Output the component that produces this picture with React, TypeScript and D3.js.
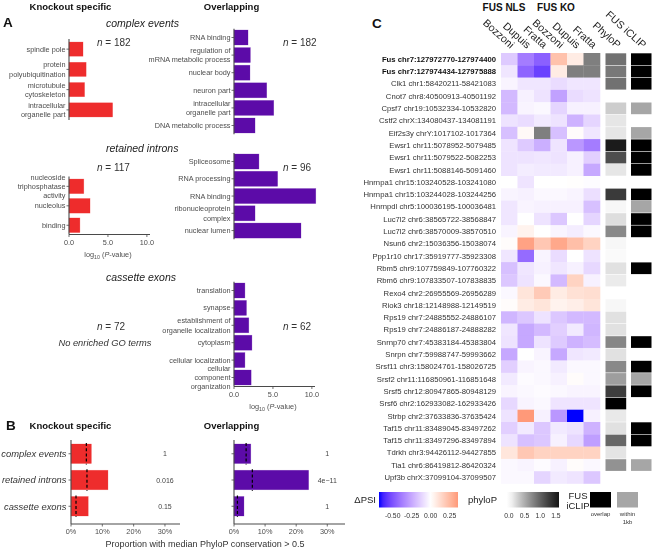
import React from 'react';
import * as d3 from 'd3';

const FONT = "'Liberation Sans', Arial, Helvetica, sans-serif";
const RED = '#EE2C2C';
const PURPLE = '#5C0BA8';
const AX = '#4a4a4a';
const LAB = '#4d4d4d';
const GF = 'url(#grayText)';

// ---------- Panel A data ----------
const koComplexTerms = ['spindle pole', 'protein\npolyubiquitination', 'microtubule\ncytoskeleton', 'intracellular\norganelle part'];
const koComplexVals = [1.8, 2.2, 2.0, 5.6];
const ovComplexTerms = ['RNA binding', 'regulation of\nmRNA metabolic process', 'nuclear body', 'neuron part', 'intracellular\norganelle part', 'DNA metabolic process'];
const ovComplexVals = [1.8, 2.1, 2.05, 4.2, 5.1, 2.7];
const koRetainedTerms = ['nucleoside\ntriphosphatase\nactivity', 'nucleolus', 'binding'];
const koRetainedVals = [1.9, 2.7, 1.4];
const ovRetainedTerms = ['Spliceosome', 'RNA processing', 'RNA binding', 'ribonucleoprotein\ncomplex', 'nuclear lumen'];
const ovRetainedVals = [3.2, 5.6, 10.5, 2.7, 8.6];
const ovCassetteTerms = ['translation', 'synapse', 'establishment of\norganelle localization', 'cytoplasm', 'cellular localization', 'cellular\ncomponent\norganization'];
const ovCassetteVals = [1.4, 1.6, 1.9, 2.3, 1.4, 2.2];
const goTicks = [0, 5, 10];

// ---------- Panel B data ----------
const bCats = ['complex events', 'retained introns', 'cassette exons'];
const bKoProp = [0.065, 0.118, 0.055];
const bKoNull = [0.049, 0.051, 0.016];
const bKoP = ['1', '0.016', '0.15'];
const bOvProp = [0.054, 0.24, 0.032];
const bOvNull = [0.039, 0.059, 0.011];
const bOvP = ['1', '4e\u221211', '1'];
const bTicks = [0, 0.1, 0.2, 0.3];

// ---------- Panel C data ----------
const eventLabels = [
  'Fus chr7:127972770-127974400', 'Fus chr7:127974434-127975888', 'Clk1 chr1:58420211-58421083',
  'Cnot7 chr8:40500913-40501192', 'Cpsf7 chr19:10532334-10532820', 'Cstf2 chrX:134080437-134081191',
  'Eif2s3y chrY:1017102-1017364', 'Ewsr1 chr11:5078952-5079485', 'Ewsr1 chr11:5079522-5082253',
  'Ewsr1 chr11:5088146-5091460', 'Hnrnpa1 chr15:103240528-103241080', 'Hnrnpa1 chr15:103244028-103244256',
  'Hnrnpdl chr5:100036195-100036481', 'Luc7l2 chr6:38565722-38568847', 'Luc7l2 chr6:38570009-38570510',
  'Nsun6 chr2:15036356-15038074', 'Ppp1r10 chr17:35919777-35923308', 'Rbm5 chr9:107759849-107760322',
  'Rbm6 chr9:107833507-107838835', 'Rexo4 chr2:26955569-26956289', 'Riok3 chr18:12148988-12149519',
  'Rps19 chr7:24885552-24886107', 'Rps19 chr7:24886187-24888282', 'Snrnp70 chr7:45383184-45383804',
  'Snrpn chr7:59988747-59993662', 'Srsf11 chr3:158024761-158026725', 'Srsf2 chr11:116850961-116851648',
  'Srsf5 chr12:80947865-80948129', 'Srsf6 chr2:162933082-162933426', 'Strbp chr2:37633836-37635424',
  'Taf15 chr11:83489045-83497262', 'Taf15 chr11:83497296-83497894', 'Tdrkh chr3:94426112-94427855',
  'Tia1 chr6:86419812-86420324', 'Upf3b chrX:37099104-37099507',
];
const boldEvents = [0, 1];
const nlsBozzoni = [-0.15,-0.07,-0.03,-0.2,-0.2,-0.08,-0.18,-0.075,-0.08,-0.08,0,-0.03,-0.07,-0.07,-0.03,0.01,-0.07,-0.18,-0.16,-0.02,0.01,-0.21,-0.07,-0.08,-0.25,-0.135,-0.06,-0.03,-0.11,-0.08,-0.135,-0.08,0.09,-0.02,-0.02];
const nlsDupuis = [-0.38,-0.45,-0.07,-0.04,-0.03,-0.1,0.02,-0.15,-0.08,-0.05,-0.075,-0.04,-0.03,0,0.045,0.33,-0.43,-0.07,-0.08,0.095,0.07,-0.16,-0.25,-0.25,0,-0.03,-0.01,-0.02,-0.03,0.36,-0.06,-0.18,0.2,-0.03,-0.02];
const nlsFratta = [-0.46,-0.55,-0.07,-0.08,-0.02,-0.06,null,-0.23,-0.07,-0.06,0,-0.02,-0.04,-0.08,0,0.2,-0.03,-0.04,-0.02,0.19,0.095,-0.08,-0.2,-0.08,-0.03,-0.02,-0.02,-0.01,-0.02,-0.04,-0.16,-0.16,0.16,-0.01,-0.12];
const koBozzoni = [0.22,0.07,-0.1,-0.27,-0.12,-0.08,-0.18,-0.075,-0.08,-0.06,0,-0.02,-0.04,-0.16,-0.03,0.31,-0.1,-0.07,-0.2,0.07,0.045,-0.16,-0.135,-0.15,-0.25,-0.06,-0.04,-0.02,-0.075,-0.3,-0.06,-0.04,0.16,-0.04,-0.06];
const koDupuis = [0.07,null,-0.07,-0.1,-0.04,-0.22,0.01,-0.3,-0.04,-0.04,0.005,-0.03,-0.04,0,-0.05,0.23,0,-0.04,0.16,0.11,0.06,-0.2,-0.06,-0.22,-0.07,-0.02,0.01,-0.03,-0.075,-0.68,-0.08,-0.11,0.16,0.01,-0.075];
const koFratta = [null,null,-0.07,-0.08,-0.04,-0.12,-0.07,-0.38,-0.135,-0.25,-0.008,-0.09,-0.18,-0.12,-0.02,0.16,-0.08,-0.11,-0.04,0.12,0.095,-0.2,-0.21,-0.19,-0.06,-0.02,-0.02,-0.03,-0.075,-0.04,-0.22,-0.28,0.16,-0.02,-0.16];
const psiColumns = [nlsBozzoni, nlsDupuis, nlsFratta, koBozzoni, koDupuis, koFratta];
const psiColNames = ['Bozzoni', 'Dupuis', 'Fratta', 'Bozzoni', 'Dupuis', 'Fratta'];
const phyloP = [0.9,0.85,0.9,null,0.3,0.15,0.15,1.55,1.15,0.15,null,1.3,0.05,0.2,0.74,0.05,0.03,0.18,0.12,null,0.05,0.18,0.18,0.76,0.18,0.74,0.6,1.28,1.72,0.13,0.18,0.97,0.16,0.68,null];
// 2 = overlap, 1 = within 1kb, 0 = none
const iclip = [2,2,2,0,1,0,1,2,2,2,0,2,1,2,2,0,0,2,0,0,0,0,0,2,0,2,1,2,0,0,2,2,0,1,0];
const psiLegendTicks = [-0.5, -0.25, 0, 0.25];
const phyloLegendTicks = [0, 0.5, 1, 1.5];

const PSI_MAX = 0.68;
const psiColor = (v: number | null) => {
  if (v == null) return '#7f7f7f';
  if (v < 0) return d3.interpolateLab('#ffffff', '#0000ff')(Math.min(1, -v / PSI_MAX));
  return d3.interpolateLab('#ffffff', '#ff0000')(Math.min(1, v / PSI_MAX));
};
const phyloColor = d3.scaleLinear<string>().domain([0, 1.72]).range(['#ffffff', '#000000']).interpolate(d3.interpolateLab).clamp(true);

function MultiLine({ x, y, text, size, fill, anchor = 'end', lh = 9.3 }: any) {
  const lines = text.split('\n');
  const start = y - ((lines.length - 1) * lh) / 2;
  return (
    <text x={x} textAnchor={anchor} fontSize={size} fill={fill} fontFamily={FONT}>
      {lines.map((l: string, i: number) => (
        <tspan key={i} x={x} y={start + i * lh + size * 0.35}>{l}</tspan>
      ))}
    </text>
  );
}

function GOChart({ terms, vals, color, axisX, y0, y1, pad, xAxisY }: any) {
  const x = d3.scaleLinear().domain([0, 10.4]).range([axisX, axisX + 81]);
  const y = d3.scaleBand<string>().domain(terms).range([y0, y1]).paddingInner(pad).paddingOuter(pad / 2);
  const bottom = xAxisY != null ? xAxisY : y1;
  return (
    <g>
      {terms.map((t: string, i: number) => (
        <g key={t}>
          <rect x={x(0)} y={y(t)} width={x(vals[i]) - x(0)} height={y.bandwidth()} fill={color} stroke={color} strokeOpacity={0.4} strokeWidth={0.6} />
          <line x1={axisX - 2.5} x2={axisX} y1={y(t)! + y.bandwidth() / 2} y2={y(t)! + y.bandwidth() / 2} stroke={AX} strokeWidth={0.8} />
        </g>
      ))}
      <g filter={GF}>
        {terms.map((t: string) => (
          <MultiLine key={t} x={axisX - 3.5} y={y(t)! + y.bandwidth() / 2} text={t} size={7.3} fill={LAB} />
        ))}
      </g>
      <line x1={axisX} x2={axisX} y1={y0} y2={bottom} stroke={AX} strokeWidth={1.1} />
      {xAxisY != null && (
        <g>
          <line x1={axisX} x2={x(10.4)} y1={xAxisY} y2={xAxisY} stroke={AX} strokeWidth={1.1} />
          {goTicks.map((t) => (
            <line key={t} x1={x(t)} x2={x(t)} y1={xAxisY} y2={xAxisY + 2.5} stroke={AX} strokeWidth={0.8} />
          ))}
          <g filter={GF}>
            {goTicks.map((t) => (
              <text key={t} x={x(t)} y={xAxisY + 10.5} textAnchor="middle" fontSize={7.3} fill={LAB} fontFamily={FONT}>{t.toFixed(1)}</text>
            ))}
            <text x={x(5)} y={xAxisY + 22.5} textAnchor="middle" fontSize={7.3} fill={LAB} fontFamily={FONT}>
              log<tspan fontSize={5.3} dy={1.5}>10</tspan><tspan dy={-1.5}> (</tspan><tspan fontStyle="italic">P</tspan>-value)
            </text>
          </g>
        </g>
      )}
    </g>
  );
}

function NLabel({ x, y, n }: any) {
  return (
    <text x={x} y={y} fontSize={10} fill="#333" fontFamily={FONT}>
      <tspan fontStyle="italic">n</tspan> = {n}
    </text>
  );
}

function PropChart({ axisX, xEnd, xMax, prop, nullv, pvals, color, labels }: any) {
  const x = d3.scaleLinear().domain([0, xMax]).range([axisX, xEnd]);
  const y = d3.scalePoint<string>().domain(bCats).range([438, 522]).padding(0.6);
  const bh = 19.5;
  const axisY = 524;
  return (
    <g>
      {bCats.map((c, i) => (
        <g key={c}>
          <rect x={x(0)} y={y(c)! - bh / 2} width={x(prop[i]) - x(0)} height={bh} fill={color} stroke={color} strokeOpacity={0.4} strokeWidth={0.6} />
          <line x1={x(nullv[i])} x2={x(nullv[i])} y1={y(c)! - bh / 2 - 1} y2={y(c)! + bh / 2 + 1} stroke="#000" strokeWidth={1.2} strokeDasharray="3,2.2" />
          <line x1={axisX - 2.5} x2={axisX} y1={y(c)!} y2={y(c)!} stroke={AX} strokeWidth={0.8} />
        </g>
      ))}
      <g filter={GF}>
        {bCats.map((c, i) => (
          <g key={c}>
            <text x={x(0.3)} y={y(c)! + 2.5} textAnchor="middle" fontSize={7} fill="#444" fontFamily={FONT}>{pvals[i]}</text>
            {labels && (
              <text x={axisX - 4.5} y={y(c)! + 3.3} textAnchor="end" fontSize={9.4} fontStyle="italic" fill="#333" fontFamily={FONT}>{c}</text>
            )}
          </g>
        ))}
        {bTicks.map((t) => (
          <text key={t} x={x(t)} y={534} textAnchor="middle" fontSize={7.3} fill={LAB} fontFamily={FONT}>{Math.round(t * 100)}%</text>
        ))}
      </g>
      <line x1={axisX} x2={axisX} y1={440} y2={axisY} stroke={AX} strokeWidth={1.1} />
      <line x1={axisX} x2={xEnd} y1={axisY} y2={axisY} stroke={AX} strokeWidth={1.1} />
      {bTicks.map((t) => (
        <line key={t} x1={x(t)} x2={x(t)} y1={axisY} y2={axisY + 2.5} stroke={AX} strokeWidth={0.8} />
      ))}
    </g>
  );
}

function Heatmap() {
  const xs = d3.scaleBand<number>().domain(d3.range(6)).range([501, 600]);
  const ys = d3.scaleBand<string>().domain(eventLabels).range([53, 483.5]);
  const phyX0 = 605.5, phyX1 = 626.2;
  const clX0 = 631, clX1 = 651.5;
  const psiLeg = d3.scaleLinear().domain([-0.68, 0.36]).range([379, 458]);
  const phyLeg = d3.scaleLinear().domain([-0.07, 1.6]).range([506.7, 559]);
  const psiStops = d3.range(0, 1.0001, 0.05).map((t) => ({ t, c: psiColor(-0.68 + t * 1.04) }));
  const phyStops = d3.range(0, 1.0001, 0.1).map((t) => ({ t, c: phyloColor(-0.07 + t * 1.67) }));
  const headerX = [...d3.range(6).map((i) => xs(i)! + xs.bandwidth() / 2), (phyX0 + phyX1) / 2, (clX0 + clX1) / 2];
  const headerT = [...psiColNames, 'PhyloP', 'FUS iCLIP'];
  return (
    <g>
      <defs>
        <linearGradient id="psiGrad" x1="0" x2="1" y1="0" y2="0">
          {psiStops.map((s) => <stop key={s.t} offset={s.t} stopColor={s.c} />)}
        </linearGradient>
        <linearGradient id="phyGrad" x1="0" x2="1" y1="0" y2="0">
          {phyStops.map((s) => <stop key={s.t} offset={s.t} stopColor={s.c} />)}
        </linearGradient>
      </defs>
      <text x={372} y={28} fontSize={13.5} fontWeight="bold" fill="#111" fontFamily={FONT}>C</text>
      <text x={504} y={10.5} textAnchor="middle" fontSize={10} fontWeight="bold" fill="#111" fontFamily={FONT}>FUS NLS</text>
      <text x={556} y={10.5} textAnchor="middle" fontSize={10} fontWeight="bold" fill="#111" fontFamily={FONT}>FUS KO</text>
      <g filter={GF}>
        {headerT.map((t, i) => (
          <text key={i} transform={`translate(${headerX[i] + 1},${49}) rotate(42)`} textAnchor="end" fontSize={10.6} fill="#222" fontFamily={FONT}>{t}</text>
        ))}
        {eventLabels.map((e, r) => (
          <text key={e} x={496} y={ys(e)! + ys.bandwidth() / 2 + 2.7} textAnchor="end" fontSize={7.7} fontWeight={boldEvents.includes(r) ? 'bold' : 'normal'} fill={boldEvents.includes(r) ? '#111' : '#333'} fontFamily={FONT}>{e}</text>
        ))}
      </g>
      {eventLabels.map((e, r) => (
        <g key={e}>
          {psiColumns.map((col, c) => (
            <rect key={c} x={xs(c)} y={ys(e)} width={xs.bandwidth() + 0.3} height={ys.bandwidth() + 0.3} fill={psiColor(col[r])} />
          ))}
          {phyloP[r] != null && (
            <rect x={phyX0} y={ys(e)! + 0.3} width={phyX1 - phyX0} height={ys.bandwidth() - 0.6} fill={phyloColor(phyloP[r] as number)} />
          )}
          {iclip[r] > 0 && (
            <rect x={clX0} y={ys(e)! + 0.3} width={clX1 - clX0} height={ys.bandwidth() - 0.6} fill={iclip[r] === 2 ? '#000000' : '#a6a6a6'} />
          )}
        </g>
      ))}
      {/* legends */}
      <rect x={379} y={492} width={79} height={15.5} fill="url(#psiGrad)" />
      <rect x={506.7} y={492} width={52.3} height={15.5} fill="url(#phyGrad)" />
      <rect x={590} y={492} width={21} height={15.5} fill="#000" />
      <rect x={617} y={492} width={21} height={15.5} fill="#a6a6a6" />
      <g filter={GF}>
        <text x={376} y={503} textAnchor="end" fontSize={9.5} fill="#222" fontFamily={FONT}>ΔPSI</text>
        {psiLegendTicks.map((t) => (
          <text key={t} x={psiLeg(t)} y={518} textAnchor="middle" fontSize={6.8} fill="#333" fontFamily={FONT}>{t.toFixed(2)}</text>
        ))}
        <text x={497} y={503} textAnchor="end" fontSize={9.5} fill="#222" fontFamily={FONT}>phyloP</text>
        {phyloLegendTicks.map((t) => (
          <text key={t} x={phyLeg(t)} y={518} textAnchor="middle" fontSize={6.8} fill="#333" fontFamily={FONT}>{t.toFixed(1)}</text>
        ))}
        <text x={578} y={499} textAnchor="middle" fontSize={9.5} fill="#222" fontFamily={FONT}>FUS</text>
        <text x={578} y={508.5} textAnchor="middle" fontSize={9.5} fill="#222" fontFamily={FONT}>iCLIP</text>
        <text x={600.5} y={515.5} textAnchor="middle" fontSize={6} fill="#333" fontFamily={FONT}>overlap</text>
        <text x={627.5} y={515.5} textAnchor="middle" fontSize={6} fill="#333" fontFamily={FONT}>within</text>
        <text x={627.5} y={524} textAnchor="middle" fontSize={6} fill="#333" fontFamily={FONT}>1kb</text>
      </g>
    </g>
  );
}

export default function App() {
  return (
    <svg width={654} height={551} style={{ position: 'absolute', left: 0, top: 0, background: '#fff' }}>
      <defs>
        <filter id="grayText" filterUnits="userSpaceOnUse" x={0} y={0} width={654} height={551}>
          <feColorMatrix type="saturate" values="0" />
        </filter>
      </defs>
      <rect x={0} y={0} width={654} height={551} fill="#fff" />
      {/* Panel A */}
      <g filter={GF}>
        <text x={3} y={27} fontSize={13.5} fontWeight="bold" fill="#111" fontFamily={FONT}>A</text>
        <text x={70.5} y={9.5} textAnchor="middle" fontSize={9.5} fontWeight="bold" fill="#111" fontFamily={FONT}>Knockout specific</text>
        <text x={231.5} y={9.5} textAnchor="middle" fontSize={9.5} fontWeight="bold" fill="#111" fontFamily={FONT}>Overlapping</text>
        <text x={106} y={26.5} fontSize={10.5} fontStyle="italic" fill="#222" fontFamily={FONT}>complex events</text>
        <text x={106} y={152} fontSize={10.5} fontStyle="italic" fill="#222" fontFamily={FONT}>retained introns</text>
        <text x={106} y={281} fontSize={10.5} fontStyle="italic" fill="#222" fontFamily={FONT}>cassette exons</text>
        <NLabel x={97} y={46} n={182} />
        <NLabel x={283} y={46} n={182} />
        <NLabel x={97} y={171} n={117} />
        <NLabel x={283} y={171} n={96} />
        <NLabel x={97} y={330} n={72} />
        <NLabel x={283} y={330} n={62} />
        <text x={105} y={346} textAnchor="middle" fontSize={9.3} fontStyle="italic" fill="#333" fontFamily={FONT}>No enriched GO terms</text>
      </g>

      <GOChart terms={koComplexTerms} vals={koComplexVals} color={RED} axisX={69} y0={39} y1={120} pad={0.3} />
      <GOChart terms={ovComplexTerms} vals={ovComplexVals} color={PURPLE} axisX={234} y0={28.7} y1={134.3} pad={0.15} />
      <GOChart terms={koRetainedTerms} vals={koRetainedVals} color={RED} axisX={69} y0={176.6} y1={235} pad={0.25} xAxisY={234.5} />
      <GOChart terms={ovRetainedTerms} vals={ovRetainedVals} color={PURPLE} axisX={234} y0={152.9} y1={239.2} pad={0.13} />
      <GOChart terms={ovCassetteTerms} vals={ovCassetteVals} color={PURPLE} axisX={234} y0={281.8} y1={386.2} pad={0.14} xAxisY={386.5} />

      {/* Panel B */}
      <g filter={GF}>
        <text x={6} y={430} fontSize={13.5} fontWeight="bold" fill="#111" fontFamily={FONT}>B</text>
        <text x={70.5} y={429} textAnchor="middle" fontSize={9.5} fontWeight="bold" fill="#111" fontFamily={FONT}>Knockout specific</text>
        <text x={231.5} y={429} textAnchor="middle" fontSize={9.5} fontWeight="bold" fill="#111" fontFamily={FONT}>Overlapping</text>
        <text x={205} y={547} textAnchor="middle" fontSize={9} fill="#333" fontFamily={FONT}>Proportion with median PhyloP conservation &gt; 0.5</text>
      </g>
      <PropChart axisX={71} xEnd={180} xMax={0.348} prop={bKoProp} nullv={bKoNull} pvals={bKoP} color={RED} labels />
      <PropChart axisX={234} xEnd={345} xMax={0.357} prop={bOvProp} nullv={bOvNull} pvals={bOvP} color={PURPLE} labels={false} />

      {/* Panel C */}
      <Heatmap />
    </svg>
  );
}
